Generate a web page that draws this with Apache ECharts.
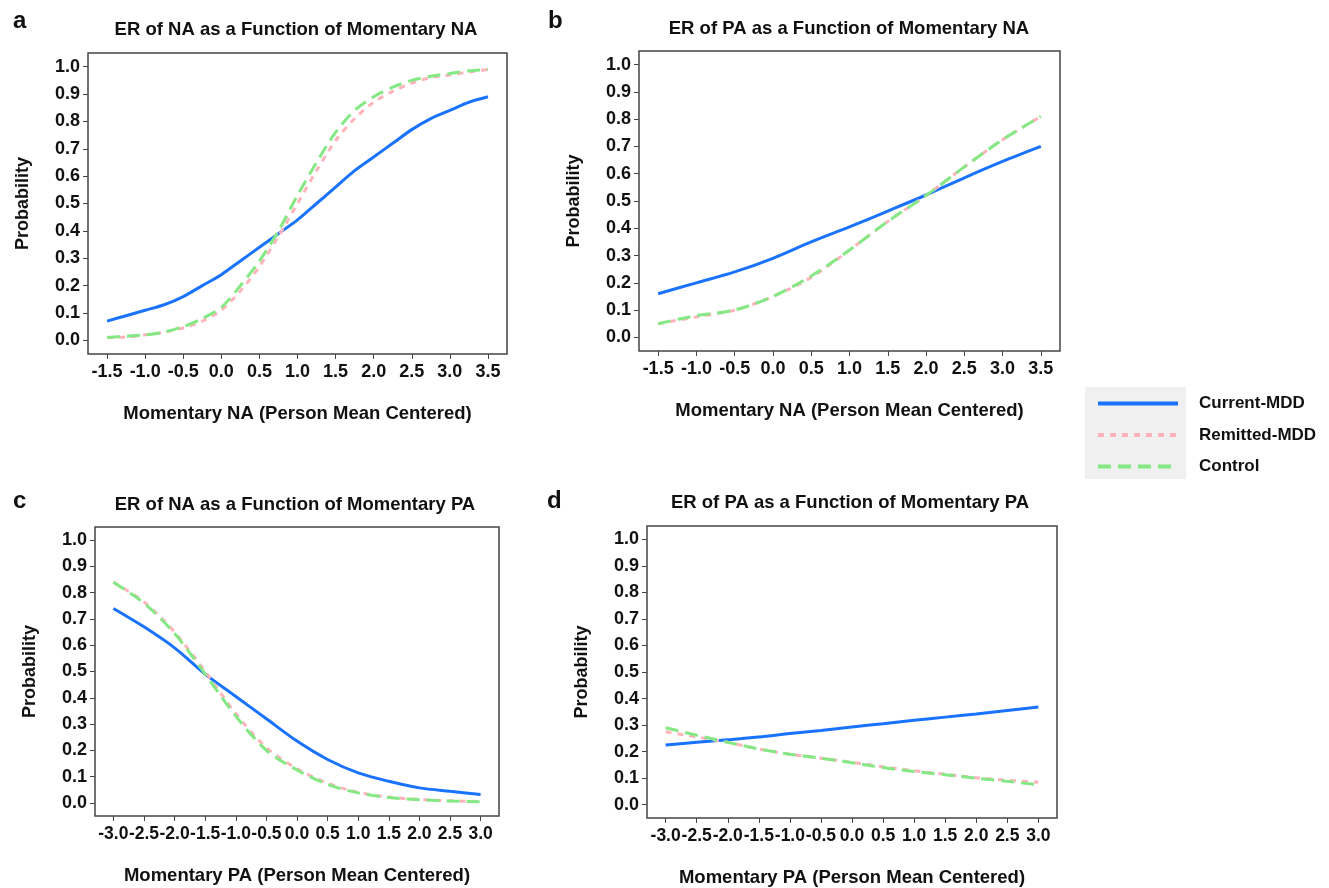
<!DOCTYPE html>
<html>
<head>
<meta charset="utf-8">
<script src="https://cdn.jsdelivr.net/npm/echarts@6/dist/echarts.min.js"></script>
<style>
html,body{margin:0;padding:0;background:#fff;}
#chart{width:1329px;height:888px;}
</style>
</head>
<body>
<div id="chart"></div>
<script>
// ---- Data ----
const groupNames = ['Current-MDD', 'Remitted-MDD', 'Control'];

// Panel a: ER of NA vs momentary NA
const xA = [-1.5,-1.25,-1.0,-0.75,-0.5,-0.25,0,0.25,0.5,0.75,1.0,1.25,1.5,1.75,2.0,2.25,2.5,2.75,3.0,3.25,3.5];
const aCurrent  = [0.07,0.09,0.11,0.13,0.16,0.20,0.24,0.29,0.34,0.39,0.44,0.50,0.56,0.62,0.67,0.72,0.77,0.81,0.84,0.87,0.89];
const aRemitted = [0.01,0.012,0.02,0.03,0.045,0.07,0.11,0.18,0.27,0.38,0.50,0.62,0.73,0.81,0.87,0.91,0.94,0.96,0.97,0.98,0.99];
const aControl  = [0.01,0.015,0.02,0.03,0.05,0.08,0.12,0.20,0.29,0.40,0.53,0.65,0.76,0.84,0.89,0.925,0.95,0.965,0.975,0.985,0.99];

// Panel b: ER of PA vs momentary NA
const xB = [-1.5,-1.0,-0.5,0,0.5,1.0,1.5,2.0,2.5,3.0,3.5];
const bCurrent  = [0.16,0.20,0.24,0.29,0.35,0.405,0.463,0.522,0.585,0.645,0.70];
const bRemitted = [0.05,0.075,0.10,0.15,0.22,0.32,0.425,0.52,0.625,0.725,0.81];
const bControl  = [0.05,0.08,0.10,0.15,0.225,0.32,0.425,0.52,0.625,0.725,0.81];

// Panel c: ER of NA vs momentary PA
const xC = [-3.0,-2.5,-2.0,-1.5,-1.0,-0.5,0,0.5,1.0,1.5,2.0,2.5,3.0];
const cCurrent  = [0.74,0.67,0.59,0.49,0.405,0.32,0.235,0.165,0.114,0.082,0.057,0.044,0.032];
const cRemitted = [0.84,0.765,0.65,0.50,0.34,0.21,0.13,0.075,0.04,0.022,0.013,0.008,0.005];
const cControl  = [0.84,0.76,0.645,0.49,0.33,0.20,0.125,0.07,0.038,0.02,0.012,0.007,0.004];

// Panel d: ER of PA vs momentary PA
const xD = [-3.0,-2.5,-2.0,-1.5,-1.0,-0.5,0,0.5,1.0,1.5,2.0,2.5,3.0];
const dCurrent  = [0.225,0.235,0.245,0.255,0.268,0.28,0.293,0.305,0.318,0.33,0.342,0.355,0.368];
const dRemitted = [0.275,0.255,0.235,0.21,0.19,0.175,0.16,0.143,0.128,0.115,0.102,0.092,0.085];
const dControl  = [0.29,0.262,0.235,0.21,0.19,0.175,0.158,0.14,0.125,0.113,0.10,0.088,0.075];

const yTicks = [0,0.1,0.2,0.3,0.4,0.5,0.6,0.7,0.8,0.9,1.0];
const xTicksNA = [-1.5,-1.0,-0.5,0,0.5,1.0,1.5,2.0,2.5,3.0,3.5];
const xTicksPA = [-3.0,-2.5,-2.0,-1.5,-1.0,-0.5,0,0.5,1.0,1.5,2.0,2.5,3.0];

const titles = ['ER of NA as a Function of Momentary NA','ER of PA as a Function of Momentary NA',
                'ER of NA as a Function of Momentary PA','ER of PA as a Function of Momentary PA'];
const letters = ['a','b','c','d'];
const xNames = ['Momentary NA (Person Mean Centered)','Momentary NA (Person Mean Centered)',
                'Momentary PA (Person Mean Centered)','Momentary PA (Person Mean Centered)'];
const yName = 'Probability';

// ---- Layout / style ----
const FONT = '"Liberation Sans", Arial, sans-serif';
const colors = ['#1a73ff', '#ffb3bb', '#84e884'];
const lineTypes = ['solid', [6, 6], [13, 7]];

const panels = [
  {x: xA, ys: [aCurrent, aRemitted, aControl], xmin: -1.75, xmax: 3.75, ticks: xTicksNA, tickFont: 18,
   grid: {left: 88, top: 53, width: 419, height: 301}},
  {x: xB, ys: [bCurrent, bRemitted, bControl], xmin: -1.75, xmax: 3.75, ticks: xTicksNA, tickFont: 18,
   grid: {left: 639, top: 51, width: 421, height: 300}},
  {x: xC, ys: [cCurrent, cRemitted, cControl], xmin: -3.3, xmax: 3.3, ticks: xTicksPA, tickFont: 17.5,
   grid: {left: 95, top: 527, width: 404, height: 289}},
  {x: xD, ys: [dCurrent, dRemitted, dControl], xmin: -3.3, xmax: 3.3, ticks: xTicksPA, tickFont: 17.5,
   grid: {left: 647, top: 526, width: 410, height: 293}}
];
const titlePos = [[296, 30], [849, 29], [295, 505], [850, 503]];
const letterPos = [[13, 21], [548, 21], [13, 501], [547, 501]];

const grids = [], xAxes = [], yAxes = [], series = [], graphics = [];
panels.forEach((p, i) => {
  grids.push(Object.assign({show: true, borderColor: '#444', borderWidth: 1.5, backgroundColor: '#fff'}, p.grid));
  xAxes.push({
    type: 'value', gridIndex: i, min: p.xmin, max: p.xmax,
    axisLine: {show: false, onZero: false}, splitLine: {show: false},
    axisTick: {show: true, length: 5, customValues: p.ticks, lineStyle: {color: '#444', width: 1}},
    axisLabel: {customValues: p.ticks, margin: 9, color: '#111', fontFamily: FONT, fontWeight: 'bold', fontSize: p.tickFont,
                showMinLabel: true, showMaxLabel: true, hideOverlap: false,
                formatter: v => v.toFixed(1)},
    name: xNames[i], nameLocation: 'middle', nameGap: 50,
    nameTextStyle: {color: '#111', fontFamily: FONT, fontWeight: 'bold', fontSize: 18.5, verticalAlign: 'top'}
  });
  yAxes.push({
    type: 'value', gridIndex: i, min: -0.05, max: 1.05,
    axisLine: {show: false, onZero: false}, splitLine: {show: false},
    axisTick: {show: true, length: 5, customValues: yTicks, lineStyle: {color: '#444', width: 1}},
    axisLabel: {customValues: yTicks, margin: 8, color: '#111', fontFamily: FONT, fontWeight: 'bold', fontSize: 18,
                showMinLabel: true, showMaxLabel: true, hideOverlap: false,
                formatter: v => v.toFixed(1)},
    name: yName, nameLocation: 'middle', nameGap: 56,
    nameTextStyle: {color: '#111', fontFamily: FONT, fontWeight: 'bold', fontSize: 18}
  });
  p.ys.forEach((ys, k) => {
    series.push({
      name: groupNames[k], type: 'line', xAxisIndex: i, yAxisIndex: i,
      data: p.x.map((xv, j) => [xv, ys[j]]),
      showSymbol: false, symbol: 'none', smooth: 0.3,
      lineStyle: {color: colors[k], width: 3, type: lineTypes[k]},
      itemStyle: {color: colors[k]},
      animation: false, z: 2 + k
    });
  });
  graphics.push({type: 'text', x: titlePos[i][0], y: titlePos[i][1],
    style: {text: titles[i], fill: '#111', font: 'bold 18.5px ' + FONT, textAlign: 'center', textVerticalAlign: 'middle'}});
  graphics.push({type: 'text', x: letterPos[i][0], y: letterPos[i][1],
    style: {text: letters[i], fill: '#111', font: 'bold 24px ' + FONT, textAlign: 'left', textVerticalAlign: 'middle'}});
});

// legend background box
graphics.push({type: 'rect', shape: {x: 1085, y: 387, width: 101, height: 92},
  style: {fill: '#f0f0f0'}, z: -1});

const chart = echarts.init(document.getElementById('chart'), null, {renderer: 'canvas'});
chart.setOption({
  backgroundColor: '#fff',
  animation: false,
  grid: grids,
  xAxis: xAxes,
  yAxis: yAxes,
  series: series,
  graphic: graphics,
  legend: {
    orient: 'vertical', left: 1096, top: 395, padding: 0,
    itemWidth: 80, itemHeight: 20, itemGap: 14.5,
    data: groupNames,
    itemStyle: {color: 'rgba(0,0,0,0)', borderWidth: 0, opacity: 0},
    lineStyle: {width: 4},
    textStyle: {color: '#111', fontFamily: FONT, fontWeight: 'bold', fontSize: 17, padding: [0, 0, 0, 16]}
  }
});
</script>
</body>
</html>
